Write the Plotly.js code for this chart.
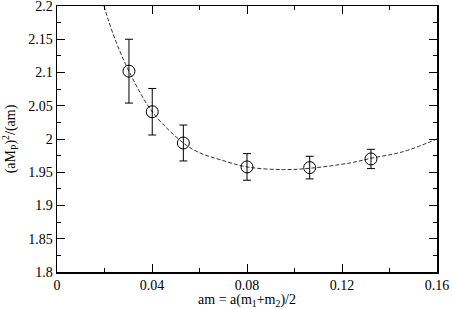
<!DOCTYPE html>
<html>
<head>
<meta charset="utf-8">
<script src="https://cdn.plot.ly/plotly-3.0.1.min.js"></script>
<style>
  html, body { margin: 0; padding: 0; background: #fff; }
  #plot { width: 452px; height: 309px; }
</style>
</head>
<body>
<div id="plot"></div>
<script>
const amValues = [0.0303, 0.0401, 0.0532, 0.0800, 0.1064, 0.1322];
const ratioValues = [2.102, 2.041, 1.994, 1.958, 1.957, 1.970];
const ratioErrors = [0.048, 0.035, 0.027, 0.020, 0.017, 0.0145];

// Fit curve, points
const fitX = [0.0198, 0.0216, 0.0251, 0.0303, 0.0401, 0.0532, 0.0602, 0.0686, 0.0800, 0.0953, 0.1064, 0.1234, 0.1322, 0.1458, 0.1600];
const fitY = [2.200, 2.179, 2.144, 2.102, 2.041, 1.994, 1.979, 1.969, 1.958, 1.954, 1.956, 1.964, 1.971, 1.981, 2.000];

// Tick labels
const xTickVals = [0, 0.04, 0.08, 0.12, 0.16];
const xTickText = ['0', '0.04', '0.08', '0.12', '0.16'];
const yTickVals = [1.8, 1.85, 1.9, 1.95, 2.0, 2.05, 2.1, 2.15, 2.2];
const yTickText = ['1.8', '1.85', '1.9', '1.95', '2', '2.05', '2.1', '2.15', '2.2'];

const serif = 'Times New Roman';

const fitTrace = {
    x: fitX,
    y: fitY,
    type: 'scatter',
    mode: 'lines',
    line: { color: '#333', width: 1, dash: '4px,2px', shape: 'spline', smoothing: 1 },
    hoverinfo: 'skip',
    showlegend: false
};

const dataTrace = {
    x: amValues,
    y: ratioValues,
    type: 'scatter',
    mode: 'markers',
    marker: { symbol: 'circle-open', size: 12, color: '#000', line: { width: 1, color: '#000' } },
    error_y: { type: 'data', array: ratioErrors, visible: true, color: '#000', thickness: 1, width: 4 },
    showlegend: false
};

const layout = {
    width: 452,
    height: 309,
    margin: { l: 57, r: 15, t: 6, b: 37 },
    paper_bgcolor: '#fff',
    plot_bgcolor: '#fff',
    font: { family: serif, size: 14, color: '#000' },
    xaxis: {
        range: [0, 0.16],
        tickmode: 'array',
        tickvals: xTickVals,
        ticktext: xTickText,
        ticks: 'inside',
        ticklen: 8,
        tickwidth: 1,
        tickcolor: '#000',
        ticklabeloverflow: 'allow',
        minor: { tickmode: 'linear', tick0: 0, dtick: 0.02, ticks: 'inside', ticklen: 4, tickcolor: '#000', showgrid: false },
        showline: true,
        linecolor: '#000',
        linewidth: 1.5,
        mirror: 'ticks',
        showgrid: false,
        zeroline: false,
        tickfont: { family: serif, size: 14, color: '#000' },
        title: { text: 'am = a(m<sub>1</sub>+m<sub>2</sub>)/2', font: { family: serif, size: 14, color: '#000' }, standoff: 0 }
    },
    yaxis: {
        range: [1.8, 2.2],
        tickmode: 'array',
        tickvals: yTickVals,
        ticktext: yTickText,
        ticks: 'inside',
        ticklen: 8,
        tickwidth: 1,
        tickcolor: '#000',
        ticklabeloverflow: 'allow',
        minor: { tickmode: 'linear', tick0: 1.8, dtick: 0.025, ticks: 'inside', ticklen: 4, tickcolor: '#000', showgrid: false },
        showline: true,
        linecolor: '#000',
        linewidth: 1.5,
        mirror: 'ticks',
        showgrid: false,
        zeroline: false,
        tickfont: { family: serif, size: 14, color: '#000' },
        title: { text: '(aM<sub>P</sub>)<sup>2</sup>/(am)', font: { family: serif, size: 14, color: '#000' }, standoff: 10 }
    }
};

Plotly.newPlot('plot', [fitTrace, dataTrace], layout, { displayModeBar: false, staticPlot: true });
</script>
</body>
</html>
